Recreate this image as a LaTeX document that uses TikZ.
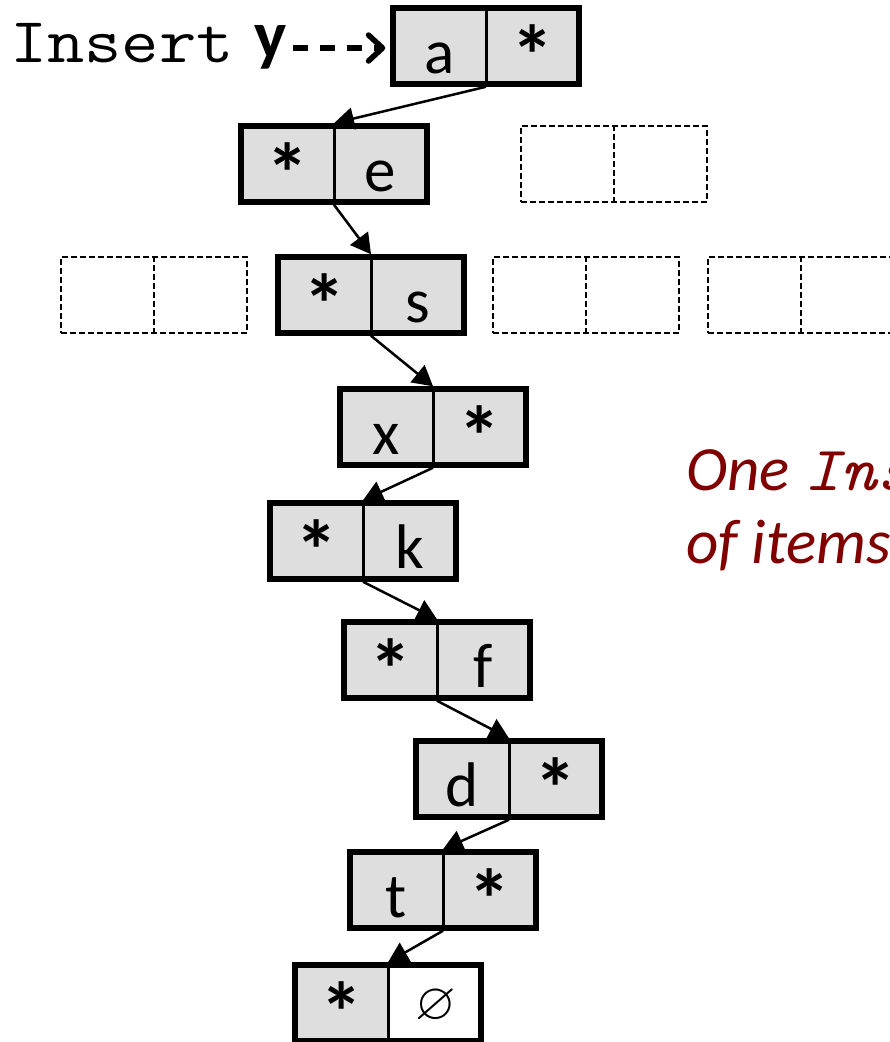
\documentclass[tikz,border=0pt]{standalone}
\usepackage{fontspec}
\usepackage{amssymb}
\setmainfont{Carlito}
\usetikzlibrary{arrows.meta,calc}
\definecolor{cellgray}{RGB}{222,222,222}
\definecolor{notered}{RGB}{128,0,0}
\newcommand{\ptr}{\raisebox{-12pt}{\scalebox{1.35}{\textbf{*}}}}
\tikzset{
  listbox/.style={draw=black, fill=cellgray, line width=5.5pt,
    minimum width=186pt, minimum height=76pt, inner sep=0pt},
  ghostbox/.style={draw=black, dash pattern=on 6pt off 3pt, line width=1.8pt,
    minimum width=186pt, minimum height=76pt, inner sep=0pt},
  divider/.style={line width=3pt},
  ghostdivider/.style={line width=1.8pt, dash pattern=on 6pt off 3pt},
  celltext/.style={anchor=base, inner sep=0pt, font=\fontsize{63}{63}\selectfont},
  link/.style={line width=2.5pt, -{Triangle[length=20pt,width=22pt]}},
  insarrow/.style={line width=5.5pt, dash pattern=on 15pt off 12pt,
    -{Straight Barb[length=14pt,width=26pt,round]}},
  notetext/.style={anchor=base west, inner sep=0pt, text=notered,
    font=\itshape\fontsize{63}{70}\selectfont},
}
\begin{document}
\begin{tikzpicture}[x=1pt,y=-1pt]
\useasboundingbox (0,0) rectangle (890,1042);
\clip (0,0) rectangle (890,1042);

% insertion label
\node[anchor=base west, inner sep=0pt] (ins) at (10,62)
  {\scalebox{1.13}[1]{\ttfamily\fontsize{64}{64}\selectfont Insert}};
\node[anchor=base west, inner sep=0pt, font=\bfseries\fontsize{68}{68}\selectfont] (ylab) at (254,58) {y};

% empty slots
\foreach \nm/\cx/\cy in {g1/614/164, g2/154/295, g3/586/295, g4/801/295}{
  \node[ghostbox] (\nm) at (\cx,\cy) {};
  \draw[ghostdivider] (\nm.north) -- (\nm.south);
}

% list cells
\foreach \nm/\cx/\cy/\lt/\rt in {n1/486/46/a/\ptr, n2/334/164/\ptr/e, n3/371/295/\ptr/s,
    n4/433/427/x/\ptr, n5/363/541/\ptr/k, n6/437/660/\ptr/f, n7/509/779/d/\ptr, n8/443/890/t/\ptr}{
  \node[listbox] (\nm) at (\cx,\cy) {};
  \draw[divider] (\nm.north) -- (\nm.south);
  \node[celltext] (\nm-l) at (\cx-46.5,\cy+27) {\lt};
  \node[celltext] (\nm-r) at (\cx+46.5,\cy+27) {\rt};
}

% last cell with null pointer
\node[listbox, path picture={\fill[white] (path picture bounding box.north) rectangle (path picture bounding box.south east);}] (n9) at (388,1003) {};
\draw[divider] (n9.north) -- (n9.south);
\node[celltext] (n9-l) at (341.5,1030) {\ptr};
\node[inner sep=0pt] (n9-r) at (436,1006) {\scalebox{2.1}{\fontsize{24.88}{24.88}\selectfont$\varnothing$}};

% pointers
\draw[insarrow] (n1.west -| ylab.east) ++(6,2) -- ($(n1.west)+(-5,2)$);
\draw[link] (n1.south) -- (n2.north);
\draw[link] (n2.south) -- (n3.north);
\draw[link] (n3.south) -- (n4.north);
\draw[link] (n4.south) -- (n5.north);
\draw[link] (n5.south) -- (n6.north);
\draw[link] (n6.south) -- (n7.north);
\draw[link] (n7.south) -- (n8.north);
\draw[link] (n8.south) -- (n9.north);

% side note
\node[notetext] (note1) at (686,490) {One {\ttfamily\itshape\scalebox{1.1}[1]{Ins}}};
\node[notetext] (note2) at (686,563) {of items};
\end{tikzpicture}
\end{document}
